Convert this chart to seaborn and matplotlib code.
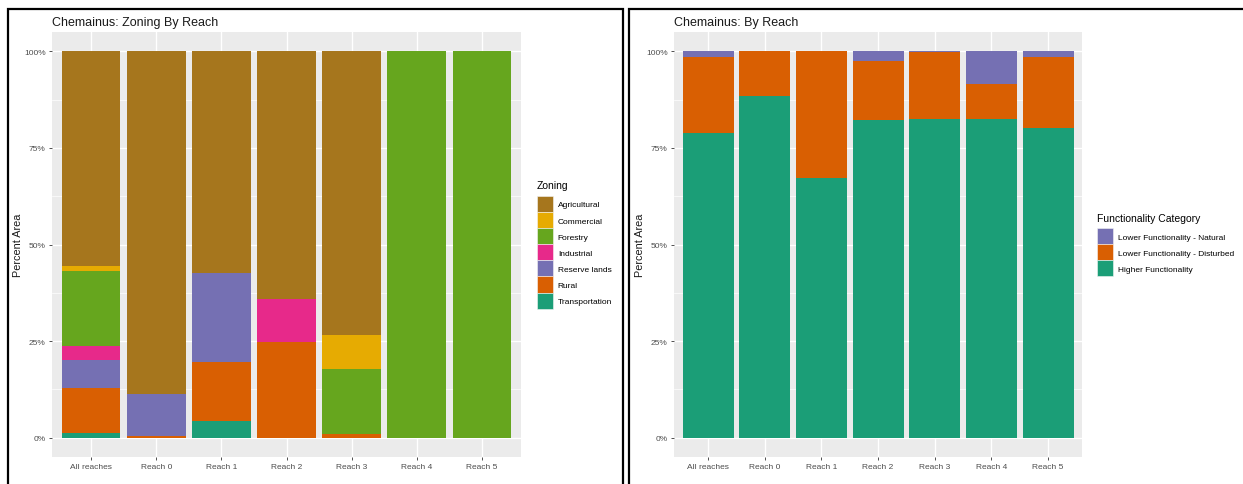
import matplotlib
matplotlib.use("Agg")
import matplotlib.pyplot as plt
from matplotlib.patches import Patch, Rectangle
import seaborn as sns
import pandas as pd
import numpy as np

# ---------------- data ----------------
reaches = ["All reaches", "Reach 0", "Reach 1", "Reach 2", "Reach 3", "Reach 4", "Reach 5"]

zoning_categories = ["Agricultural", "Commercial", "Forestry", "Industrial",
                     "Reserve lands", "Rural", "Transportation"]
agricultural = [55.5, 88.8, 57.3, 64.0, 73.5, 0.0, 0.0]
commercial = [1.3, 0.0, 0.0, 0.0, 8.8, 0.0, 0.0]
forestry = [19.4, 0.0, 0.0, 0.0, 16.8, 100.0, 100.0]
industrial = [3.6, 0.0, 0.0, 11.3, 0.0, 0.0, 0.0]
reserve_lands = [7.3, 10.7, 23.1, 0.0, 0.0, 0.0, 0.0]
rural = [11.8, 0.5, 15.3, 24.7, 0.9, 0.0, 0.0]
transportation = [1.1, 0.0, 4.3, 0.0, 0.0, 0.0, 0.0]

func_categories = ["Lower Functionality - Natural", "Lower Functionality - Disturbed",
                   "Higher Functionality"]
lower_natural = [1.4, 0.0, 0.0, 2.4, 0.3, 8.5, 1.4]
lower_disturbed = [19.8, 11.6, 32.9, 15.3, 17.1, 9.1, 18.5]
higher = [78.8, 88.4, 67.1, 82.3, 82.6, 82.4, 80.1]

y_ticks = [0, 25, 50, 75, 100]
y_ticklabels = ["0%", "25%", "50%", "75%", "100%"]

zoning_colors = ["#A6761D", "#E6AB02", "#66A61E", "#E7298A", "#7570B3", "#D95F02", "#1B9E77"]
func_colors = ["#7570B3", "#D95F02", "#1B9E77"]

# ---------------- style ----------------
FONT = ["Liberation Sans", "DejaVu Sans"]
plt.rcParams["font.family"] = FONT

W, H = 1243, 485
fig = plt.figure(figsize=(W / 100, H / 100), dpi=100)


def px_axes(x0, y0, x1, y1):
    return fig.add_axes([x0 / W, 1 - y1 / H, (x1 - x0) / W, (y1 - y0) / H])


def stacked(ax, series, cats, colors):
    # series in legend order (top of stack first); bottom of stack is last
    vals = np.array(series, dtype=float)
    for i, (cat, col) in enumerate(zip(cats, colors)):
        cum = vals[i:].sum(axis=0)
        d = pd.DataFrame({"reach": reaches, "value": cum})
        sns.barplot(data=d, x="reach", y="value", order=reaches, color=col,
                    width=0.9, linewidth=0, saturation=1, ax=ax, zorder=3,
                    errorbar=None)


def style_axes(ax, title, ylabel_x):
    ax.set_facecolor("#EBEBEB")
    ax.set_xlim(-0.6, 6.6)
    ax.set_ylim(-5, 105)
    ax.set_yticks(y_ticks)
    ax.set_yticklabels(y_ticklabels)
    ax.set_yticks([12.5, 37.5, 62.5, 87.5], minor=True)
    ax.grid(True, which="major", color="white", linewidth=1.0, zorder=0)
    ax.grid(True, which="minor", axis="y", color="white", linewidth=0.5, zorder=0)
    ax.set_axisbelow(True)
    for s in ax.spines.values():
        s.set_visible(False)
    ax.tick_params(axis="both", which="major", length=2.5, width=0.6, color="#333333",
                   labelsize=6, labelcolor="#4D4D4D", pad=2)
    ax.tick_params(axis="y", which="minor", length=0)
    ax.set_xlabel("")
    ax.set_ylabel("Percent Area", fontsize=7.8, color="#1A1A1A")
    ax.yaxis.set_label_coords(ylabel_x, 0.5)
    ax.set_title(title, loc="left", fontsize=9, color="#1A1A1A", pad=5)


def add_legend(ax, colors, labels, title, x_px):
    handles = [Patch(facecolor=c, edgecolor="#F4F4F4", linewidth=0.4) for c in colors]
    leg = ax.legend(handles, labels, title=title, loc="center left",
                    bbox_to_anchor=(x_px / W, 1 - 245.5 / H), bbox_transform=fig.transFigure,
                    frameon=False, fontsize=6, title_fontsize=7.5, handlelength=1.9,
                    handleheight=2.6, labelspacing=0.0, handletextpad=0.6,
                    borderpad=0, borderaxespad=0, alignment="left")
    leg._legend_box.sep = 4
    return leg


# ---- left panel ----
ax1 = px_axes(52, 33, 521, 458)
stacked(ax1, [agricultural, commercial, forestry, industrial, reserve_lands, rural, transportation],
        zoning_categories, zoning_colors)
style_axes(ax1, "Chemainus: Zoning By Reach", (23 - 52) / 469)
add_legend(ax1, zoning_colors, zoning_categories, "Zoning", 537)

# ---- right panel ----
ax2 = px_axes(674, 33, 1082, 458)
stacked(ax2, [lower_natural, lower_disturbed, higher], func_categories, func_colors)
style_axes(ax2, "Chemainus: By Reach", (645 - 674) / 408)
add_legend(ax2, func_colors, func_categories, "Functionality Category", 1097)

# ---- outer frames (screenshot borders) ----
def frame(x0, y0, x1, y1):
    fig.patches.append(Rectangle((x0 / W, 1 - y1 / H), (x1 - x0) / W, (y1 - y0) / H,
                                 transform=fig.transFigure, fill=False,
                                 edgecolor="black", linewidth=1.6, zorder=10))

frame(8, 10, 623, 500)
frame(629, 10, 1260, 500)

fig.savefig("out.png", dpi=100, facecolor="white")
